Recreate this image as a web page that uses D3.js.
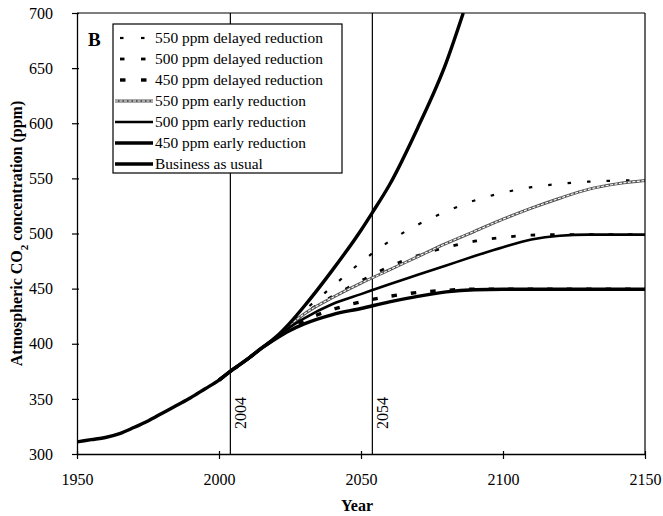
<!DOCTYPE html>
<html>
<head>
<meta charset="utf-8">
<script src="https://cdn.jsdelivr.net/npm/d3@7"></script>
<style>
  html, body { margin: 0; padding: 0; background: #fff; }
  svg { display: block; }
  text { font-family: "Liberation Serif", "DejaVu Serif", serif; fill: #000; }
</style>
</head>
<body>
<svg id="chart" width="663" height="516"></svg>
<script>
// ---------- data ----------
const xTicks = [1950, 2000, 2050, 2100, 2150];
const yTicks = [300, 350, 400, 450, 500, 550, 600, 650, 700];
const markerYears = [2004, 2054];

const histYears = [1950, 1955, 1960, 1965, 1970, 1975, 1980, 1985, 1990, 1995, 2000, 2004, 2010, 2015];
const histPpm   = [311, 313, 315, 318.5, 324, 330, 337, 344, 351, 359, 367, 375, 386, 396];

const bauYears = [2015, 2020, 2025, 2030, 2040, 2050, 2054, 2060, 2070, 2080, 2086];
const bauPpm   = [396, 406, 419, 434, 467, 503, 519, 544, 596, 655, 700];

const early450Years = [2015, 2020, 2025, 2030, 2040, 2050, 2060, 2070, 2080, 2090, 2100, 2150];
const early450Ppm   = [396, 404.5, 412, 418, 426.5, 432, 438, 443, 447, 449, 449.5, 449.5];

const early500Years = [2015, 2020, 2025, 2030, 2040, 2050, 2060, 2070, 2080, 2090, 2100, 2110, 2120, 2130, 2150];
const early500Ppm   = [396, 405, 415, 423, 436, 445, 454, 462.5, 471, 479.5, 487.5, 494.5, 498, 499, 499];

const early550Years = [2015, 2020, 2025, 2030, 2040, 2050, 2060, 2070, 2080, 2090, 2100, 2110, 2120, 2130, 2140, 2150];
const early550Ppm   = [396, 405.5, 417, 427, 442, 455, 467, 479, 491, 502, 513, 523, 532, 540, 545, 548];

const delayed450Years = [2015, 2020, 2025, 2030, 2040, 2050, 2060, 2070, 2080, 2090, 2150];
const delayed450Ppm   = [396, 405, 413.5, 421, 431, 438, 443, 446.5, 448.5, 449.5, 449.5];

const delayed500Years = [2015, 2020, 2025, 2030, 2040, 2050, 2060, 2070, 2080, 2090, 2100, 2110, 2120, 2150];
const delayed500Ppm   = [396, 405.5, 416, 427, 443, 457, 470, 480, 487.5, 493, 496.5, 498.5, 499, 499];

const delayed550Years = [2015, 2020, 2025, 2030, 2040, 2050, 2060, 2070, 2080, 2090, 2100, 2110, 2120, 2130, 2140, 2150];
const delayed550Ppm   = [396, 406, 418, 430, 452, 474, 493, 508, 520, 530, 537, 542, 545, 547, 548, 548.5];

const legendLabels = [
  "550 ppm delayed reduction",
  "500 ppm delayed reduction",
  "450 ppm delayed reduction",
  "550 ppm early reduction",
  "500 ppm early reduction",
  "450 ppm early reduction",
  "Business as usual"
];

// ---------- layout ----------
const svg = d3.select("#chart");
const L = 77, R = 645, T = 13, B = 454;
const x = d3.scaleLinear().domain([1950, 2150]).range([L, R]);
const y = d3.scaleLinear().domain([300, 700]).range([B, T]);

// each projection is joined onto the tail of the historical record so the curves stay smooth
const histTail = histYears.map((yr, i) => ({ year: yr, ppm: histPpm[i] })).filter(d => d.year >= 2000 && d.year < 2015);
const zip = (ys, vs) => ys.map((yr, i) => ({ year: yr, ppm: vs[i] }));
const proj = (ys, vs) => histTail.concat(zip(ys, vs));

const styles = [
  { stroke: "#000", width: 2.2, dash: "3.5,16", seg: 3.5 },   // 550 delayed
  { stroke: "#000", width: 2.8, dash: "4.5,15", seg: 4.5 },   // 500 delayed
  { stroke: "#000", width: 3.4, dash: "5.5,14", seg: 5.5 },   // 450 delayed
  { stroke: "#555", width: 3.0, dash: null, chain: true },    // 550 early
  { stroke: "#000", width: 2.6, dash: null },                 // 500 early
  { stroke: "#000", width: 3.4, dash: null },                 // 450 early
  { stroke: "#000", width: 3.4, dash: null }                  // BAU
];

const series = [
  { data: proj(delayed550Years, delayed550Ppm), s: styles[0] },
  { data: proj(delayed500Years, delayed500Ppm), s: styles[1] },
  { data: proj(delayed450Years, delayed450Ppm), s: styles[2] },
  { data: proj(early550Years, early550Ppm), s: styles[3] },
  { data: proj(early500Years, early500Ppm), s: styles[4] },
  { data: proj(early450Years, early450Ppm), s: styles[5] },
  { data: zip(histYears, histPpm).concat(zip(bauYears, bauPpm).slice(1)), s: styles[6] }
];

svg.append("defs").append("clipPath").attr("id", "plotclip")
  .append("rect").attr("x", L).attr("y", T).attr("width", R - L).attr("height", B - T);

// marker vertical lines
const mk = svg.append("g");
markerYears.forEach(yr => {
  mk.append("line")
    .attr("x1", x(yr)).attr("x2", x(yr))
    .attr("y1", B).attr("y2", T)
    .attr("stroke", "#000").attr("stroke-width", 1.2);
  mk.append("text")
    .attr("transform", `translate(${x(yr) + 10},${413}) rotate(-90)`)
    .attr("text-anchor", "middle")
    .attr("dominant-baseline", "central")
    .style("font-size", "16px")
    .text(yr);
});

// curves
const line = d3.line().x(d => x(d.year)).y(d => y(d.ppm)).curve(d3.curveMonotoneX);
const cg = svg.append("g").attr("clip-path", "url(#plotclip)");
series.forEach(sr => {
  cg.append("path")
    .datum(sr.data)
    .attr("d", line)
    .attr("fill", "none")
    .attr("stroke", sr.s.stroke)
    .attr("stroke-width", sr.s.width)
    .attr("stroke-dasharray", sr.s.dash)
    .attr("stroke-linejoin", "round");
  if (sr.s.chain) {
    cg.append("path")
      .datum(sr.data)
      .attr("d", line)
      .attr("fill", "none")
      .attr("stroke", "#fff")
      .attr("stroke-width", 1.1)
      .attr("stroke-dasharray", "3,1.5");
  }
});

// frame (top & right)
svg.append("line").attr("x1", L).attr("x2", R).attr("y1", T).attr("y2", T)
  .attr("stroke", "#000").attr("stroke-width", 1.2);
svg.append("line").attr("x1", R).attr("x2", R).attr("y1", T).attr("y2", B)
  .attr("stroke", "#000").attr("stroke-width", 1.2);

// axes
const yAxis = svg.append("g").attr("transform", `translate(${L},0)`)
  .call(d3.axisLeft(y).tickValues(yTicks).tickSize(5).tickSizeOuter(0).tickPadding(19).tickFormat(d3.format("d")));
yAxis.selectAll(".tick line").attr("x1", 2).attr("stroke-width", 1.2);
yAxis.select(".domain").attr("stroke-width", 1.3);
yAxis.selectAll("text").style("font-size", "16px").attr("font-family", null);

const xAxis = svg.append("g").attr("transform", `translate(0,${B})`)
  .call(d3.axisBottom(x).tickValues(xTicks).tickSize(5).tickSizeOuter(0).tickPadding(15).tickFormat(d3.format("d")));
xAxis.selectAll(".tick line").attr("y1", -3).attr("stroke-width", 1.2);
xAxis.select(".domain").attr("stroke-width", 1.3);
xAxis.selectAll("text").style("font-size", "16px").attr("font-family", null);

// axis titles
svg.append("text")
  .attr("x", (L + R) / 2 - 4).attr("y", 511)
  .attr("text-anchor", "middle")
  .style("font-size", "16px").style("font-weight", "bold")
  .text("Year");

const yt = svg.append("text")
  .attr("transform", `translate(22,${(T + B) / 2}) rotate(-90)`)
  .attr("text-anchor", "middle")
  .style("font-size", "16px").style("font-weight", "bold");
yt.append("tspan").text("Atmospheric CO");
yt.append("tspan").attr("baseline-shift", "sub").style("font-size", "11px").text("2");
yt.append("tspan").text(" concentration (ppm)");

// panel label
svg.append("text").attr("x", 88).attr("y", 46)
  .style("font-size", "19px").style("font-weight", "bold").text("B");

// legend
const lg = svg.append("g");
lg.append("rect").attr("x", 113).attr("y", 24).attr("width", 229).attr("height", 149)
  .attr("fill", "#fff").attr("stroke", "#000").attr("stroke-width", 1.2);
legendLabels.forEach((lab, i) => {
  const cy = 38 + i * 21;
  const s = styles[i];
  if (s.dash) {
    [120, 141].forEach(x0 => {
      lg.append("line").attr("x1", x0).attr("x2", x0 + s.seg)
        .attr("y1", cy).attr("y2", cy)
        .attr("stroke", "#000").attr("stroke-width", s.width);
    });
  } else {
    lg.append("line").attr("x1", 115).attr("x2", 153).attr("y1", cy).attr("y2", cy)
      .attr("stroke", s.stroke).attr("stroke-width", s.width);
    if (s.chain) {
      lg.append("line").attr("x1", 115).attr("x2", 153).attr("y1", cy).attr("y2", cy)
        .attr("stroke", "#fff").attr("stroke-width", 1.1).attr("stroke-dasharray", "3,1.5");
    }
  }
  lg.append("text").attr("x", 155).attr("y", cy + 5)
    .style("font-size", "15.4px").text(lab);
});
</script>
</body>
</html>
